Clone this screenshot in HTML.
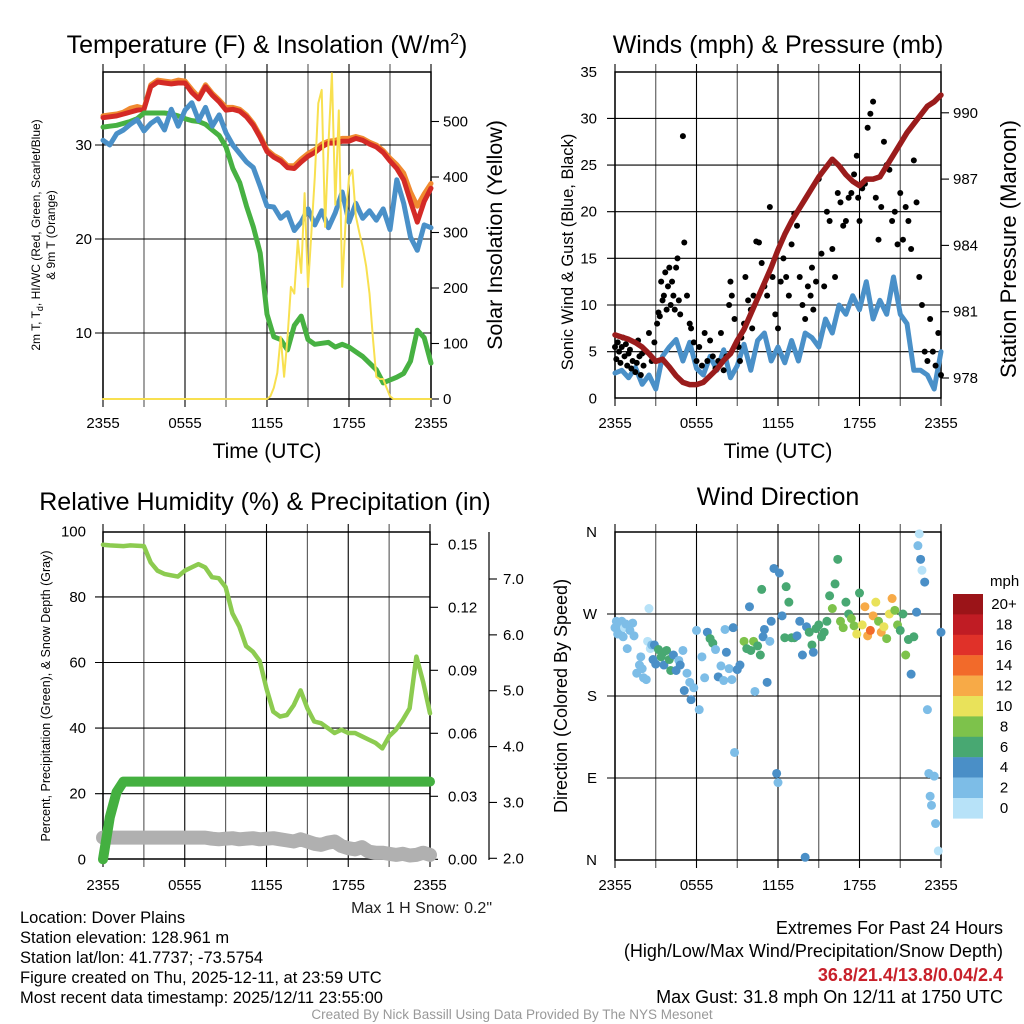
<!DOCTYPE html>
<html><head><meta charset="utf-8">
<style>
html,body{margin:0;padding:0;background:#fff;}
svg{display:block;font-family:"Liberation Sans",Arial,sans-serif;}
</style></head>
<body>
<svg id="fig" width="1024" height="1024" viewBox="0 0 1024 1024" xmlns="http://www.w3.org/2000/svg">
<rect width="1024" height="1024" fill="#fff"/>
<text x="267" y="53" font-size="25" text-anchor="middle">Temperature (F) &amp; Insolation (W/m<tspan dy="-9" font-size="16">2</tspan><tspan dy="9">)</tspan></text>
<text x="778" y="53" font-size="25" text-anchor="middle">Winds (mph) &amp; Pressure (mb)</text>
<text x="265" y="510" font-size="25" text-anchor="middle">Relative Humidity (%) &amp; Precipitation (in)</text>
<text x="778" y="505" font-size="25" text-anchor="middle">Wind Direction</text>

<text x="267" y="458" font-size="21" text-anchor="middle">Time (UTC)</text>
<text x="778" y="458" font-size="21" text-anchor="middle">Time (UTC)</text>
<text transform="translate(40,235) rotate(-90)" font-size="12" text-anchor="middle">2m T, T<tspan font-size="9" dy="3">d</tspan><tspan dy="-3">, HI/WC (Red, Green, Scarlet/Blue)</tspan></text>
<text transform="translate(55,235) rotate(-90)" font-size="12" text-anchor="middle">&amp; 9m T (Orange)</text>
<text transform="translate(502,235) rotate(-90)" font-size="21.5" text-anchor="middle">Solar Insolation (Yellow)</text>
<text transform="translate(573,252) rotate(-90)" font-size="16.5" text-anchor="middle">Sonic Wind &amp; Gust (Blue, Black)</text>
<text transform="translate(1016,249) rotate(-90)" font-size="22" text-anchor="middle">Station Pressure (Maroon)</text>
<text transform="translate(50,696) rotate(-90)" font-size="12.5" text-anchor="middle">Percent, Precipitation (Green), &amp; Snow Depth (Gray)</text>
<text transform="translate(567,696) rotate(-90)" font-size="18" text-anchor="middle">Direction (Colored By Speed)</text>

<g id="p1"></g>
<g id="p2"></g>
<g id="p3"></g>
<g id="p4"></g>
<g id="cbar"></g>

<text x="492" y="913" font-size="16" text-anchor="end" fill="#222">Max 1 H Snow: 0.2"</text>
<g font-size="16.5">
<text x="20" y="923">Location: Dover Plains</text>
<text x="20" y="943">Station elevation: 128.961 m</text>
<text x="20" y="963">Station lat/lon: 41.7737; -73.5754</text>
<text x="20" y="983">Figure created on Thu, 2025-12-11, at 23:59 UTC</text>
<text x="20" y="1003">Most recent data timestamp: 2025/12/11 23:55:00</text>
</g>
<g font-size="18" text-anchor="end">
<text x="1003" y="934">Extremes For Past 24 Hours</text>
<text x="1003" y="957">(High/Low/Max Wind/Precipitation/Snow Depth)</text>
<text x="1003" y="981" fill="#c8202a" font-weight="bold">36.8/21.4/13.8/0.04/2.4</text>
<text x="1003" y="1003">Max Gust: 31.8 mph On 12/11 at 1750 UTC</text>
</g>
<text x="512" y="1019" font-size="13.5" text-anchor="middle" fill="#999">Created By Nick Bassill Using Data Provided By The NYS Mesonet</text>
</svg>
<script>
const timeLabels = ["2355","0555","1155","1755","2355"];
const tempRed = [32.9,33.0,33.1,33.3,33.5,33.7,33.8,36.2,36.7,36.6,36.5,36.6,36.6,35.6,34.9,36.2,35.3,34.6,33.7,33.8,33.6,33.0,32.1,30.8,29.3,28.7,28.3,27.6,27.5,28.2,28.8,29.2,29.8,30.2,30.2,30.4,30.4,30.7,30.5,30.1,29.8,29.2,28.3,27.5,26.3,24.0,21.8,24.0,25.4];
const temp9mOrange = [33.1,33.2,33.3,33.5,33.9,34.1,33.9,36.4,36.9,36.8,36.7,36.9,36.8,35.9,35.1,36.4,35.5,34.8,34.0,34.0,33.8,33.2,32.3,31.0,29.5,28.9,28.5,27.8,27.8,28.5,29.1,29.5,30.1,30.4,30.5,30.7,30.7,30.9,30.7,30.3,30.0,29.4,28.6,27.9,27.0,25.0,23.5,24.8,25.9];
const heatIndexGreen = [31.9,32.0,32.1,32.3,32.5,32.8,33.4,33.4,33.4,33.4,33.3,33.1,32.8,32.6,32.5,32.2,31.6,31.0,29.8,27.5,26.0,23.5,21.3,18.5,12.0,9.6,9.3,8.2,10.8,11.8,9.3,8.8,8.9,9.0,8.5,8.8,8.5,8.0,7.5,6.8,6.1,4.7,5.0,5.3,5.7,7.0,10.3,9.5,6.8];
const dewBlue = [30.5,30.0,31.2,31.6,32.2,32.7,31.5,32.3,32.8,31.6,33.8,32.0,33.7,34.5,32.6,34.0,32.0,33.2,31.3,30.0,29.1,28.2,27.6,25.6,23.5,23.4,22.2,22.8,20.9,21.8,23.2,21.5,23.0,21.2,22.8,25.0,21.8,23.8,22.2,23.0,22.0,23.2,21.0,26.3,23.8,20.2,18.8,21.5,21.2];
const insolation = [0,0,0,0,0,0,0,0,0,0,0,0,0,0,0,0,0,0,0,0,0,0,0,0,0,0,0,0,0,0,0,0,0,0,0,0,0,0,0,0,0,0,0,0,0,0,0,0,0,5,20,47,112,40,110,202,190,286,227,371,202,300,400,533,557,310,461,587,350,520,202,320,400,413,330,300,274,240,190,110,40,36,36,20,5,0,0,0,0,0,0,0,0,0,0,0,0];
const windBlue = [2.7,3.0,2.2,3.3,1.5,2.5,1.0,4.5,5.5,6.3,4.0,6.0,3.2,2.5,4.5,3.0,5.2,2.2,3.5,5.8,3.0,6.2,7.0,4.0,5.5,3.8,6.2,4.0,7.0,6.5,5.5,8.5,7.0,10.0,9.0,11.0,9.5,12.5,8.5,10.5,9.0,13.0,9.0,8.0,3.0,3.0,2.5,1.0,5.0];
const pressure = [979.95,979.85,979.75,979.6,979.4,979.1,978.75,978.85,978.5,978.1,977.8,977.7,977.7,977.8,978.1,978.4,978.8,979.1,979.7,980.2,980.9,981.6,982.3,983.0,983.8,984.5,985.1,985.6,986.1,986.6,987.1,987.5,987.9,987.6,987.2,986.9,986.7,987.0,987.0,987.1,987.6,988.1,988.6,989.1,989.5,989.9,990.3,990.5,990.8];
const gustHours = [0.0,0.1,0.2,0.3,0.4,0.5,0.6,0.7,0.8,0.9,1.0,1.1,1.2,1.3,1.5,1.6,1.7,1.8,1.9,2.0,2.1,2.3,2.5,2.7,2.9,3.1,3.2,3.3,3.4,3.5,3.6,3.7,3.8,3.9,4.0,4.1,4.2,4.3,4.4,4.5,4.6,4.7,4.8,5.0,5.1,5.3,5.5,5.6,5.8,6.0,6.2,6.4,6.6,6.8,7.0,7.2,7.4,7.6,7.8,8.0,8.2,8.4,8.5,8.6,8.8,9.0,9.1,9.2,9.3,9.5,9.6,9.8,10.0,10.1,10.2,10.4,10.6,10.8,11.0,11.2,11.4,11.6,11.8,12.0,12.2,12.4,12.6,12.8,13.0,13.2,13.4,13.6,13.8,14.0,14.2,14.4,14.5,14.6,14.8,15.0,15.2,15.4,15.6,15.8,16.0,16.2,16.4,16.6,16.8,17.0,17.2,17.4,17.6,17.8,17.9,18.0,18.2,18.4,18.6,18.8,19.0,19.2,19.4,19.6,19.8,20.0,20.2,20.4,20.6,20.8,21.0,21.2,21.4,21.6,21.8,22.0,22.2,22.4,22.6,22.8,23.0,23.2,23.4,23.6,23.8,24.0];
const gustMph = [5.5,4.2,6.0,5.0,3.8,5.5,6.5,4.5,5.8,3.5,4.8,5.2,3.2,4.0,2.8,3.8,6.2,4.5,2.5,4.8,3.5,5.0,7.0,4.0,6.0,8.0,9.2,8.8,12.5,10.5,11.0,13.5,9.5,12.0,14.0,10.0,12.5,11.0,9.5,14.0,15.0,10.5,9.0,28.1,16.7,11.0,8.0,7.5,6.0,4.0,5.5,3.5,7.0,4.0,6.2,4.5,3.2,4.0,7.0,3.0,4.5,10.0,12.5,11.0,8.5,6.0,5.5,4.0,6.5,8.0,13.0,10.5,9.5,7.5,11.0,16.8,16.7,14.5,12.0,11.0,20.5,13.0,9.0,7.5,12.5,15.0,13.0,11.0,16.5,19.8,18.5,13.0,10.0,8.5,12.0,11.0,14.0,9.5,12.5,23.5,15.5,12.0,20.0,19.0,16.0,13.0,22.0,21.0,18.5,19.0,21.5,22.0,24.0,26.0,21.5,19.0,22.5,23.0,29.0,30.5,31.8,21.5,17.0,20.5,27.5,25.0,24.5,19.0,20.0,16.5,22.0,17.0,20.5,19.0,16.0,25.5,21.0,13.0,10.0,5.0,4.0,8.5,5.0,3.5,7.0,2.5,1.5,4.0,6.5,12.5,9.0];
const rhPercent = [95.9,95.7,95.6,95.5,95.7,95.6,95.5,90.5,88.0,87.0,86.6,86.2,88.0,89.0,90.0,89.0,86.0,85.7,83.0,75.0,71.0,65.0,63.3,60.5,52.0,45.0,43.5,44.0,47.0,51.5,46.0,42.0,41.5,40.0,38.5,39.5,38.5,38.5,37.5,36.5,35.5,33.8,37.5,39.5,42.5,46.0,61.8,54.0,44.5];
const precipIn = [0.0,0.02,0.032,0.037,0.037,0.037,0.037,0.037,0.037,0.037,0.037,0.037,0.037,0.037,0.037,0.037,0.037,0.037,0.037,0.037,0.037,0.037,0.037,0.037,0.037,0.037,0.037,0.037,0.037,0.037,0.037,0.037,0.037,0.037,0.037,0.037,0.037,0.037,0.037,0.037,0.037,0.037,0.037,0.037,0.037,0.037,0.037,0.037,0.037];
const snowDepth = [2.37,2.37,2.37,2.37,2.37,2.37,2.37,2.37,2.37,2.37,2.37,2.37,2.37,2.37,2.37,2.37,2.35,2.34,2.35,2.36,2.34,2.35,2.36,2.34,2.35,2.36,2.34,2.32,2.30,2.34,2.30,2.26,2.24,2.28,2.30,2.22,2.18,2.16,2.20,2.12,2.10,2.10,2.08,2.06,2.08,2.05,2.06,2.10,2.06];
const dirHours = [0.0,0.1,0.2,0.3,0.4,0.5,0.6,0.7,0.8,0.9,1.1,1.3,1.4,1.6,1.8,1.9,2.0,2.1,2.3,2.4,2.5,2.6,2.7,2.8,2.9,3.0,3.2,3.4,3.5,3.6,3.8,4.0,4.1,4.3,4.5,4.7,4.8,5.0,5.1,5.3,5.5,5.6,5.8,6.0,6.2,6.4,6.6,6.8,7.0,7.2,7.4,7.6,7.8,8.0,8.1,8.2,8.4,8.6,8.7,8.8,9.0,9.2,9.5,9.7,9.9,10.0,10.2,10.3,10.5,10.7,10.8,10.9,11.0,11.2,11.4,11.5,11.7,11.9,12.0,12.1,12.3,12.5,12.6,12.8,13.0,13.2,13.4,13.6,13.8,14.0,14.1,14.3,14.5,14.6,14.8,15.0,15.2,15.4,15.6,15.8,16.0,16.2,16.4,16.6,16.8,17.0,17.2,17.4,17.6,17.8,18.0,18.2,18.4,18.6,18.8,19.0,19.2,19.4,19.6,19.8,20.0,20.2,20.4,20.6,20.8,21.0,21.2,21.4,21.6,21.8,22.0,22.2,22.3,22.4,22.5,22.6,22.8,23.0,23.1,23.2,23.3,23.5,23.6,23.8,24.0];
const dirDegrees = [255,262,248,258,250,262,245,255,259,232,252,260,246,205,214,223,210,200,198,240,276,232,236,220,236,215,231,223,227,214,230,220,208,225,208,219,214,230,186,205,195,176,189,252,165,223,200,250,243,238,231,201,213,197,253,228,210,198,255,118,209,214,240,232,278,230,240,185,235,225,297,245,253,195,240,262,320,95,85,315,268,244,300,283,244,244,246,262,225,3,256,250,236,228,254,258,245,250,262,290,276,303,330,262,255,283,270,265,257,248,293,258,278,246,252,268,283,262,250,256,243,270,287,274,258,252,270,225,242,204,245,272,345,358,330,318,305,165,95,70,60,92,40,10,250,255];
const dirSpeed = [2,2,2,2,2,2,2,0,2,2,2,2,2,2,2,2,2,2,2,0,0,0,2,4,4,4,6,6,6,4,6,6,6,4,4,2,4,2,4,2,2,4,2,2,2,2,2,4,6,6,2,4,2,2,2,4,2,2,4,2,4,4,8,6,4,6,8,2,6,6,6,4,4,4,2,4,4,4,2,4,4,6,6,6,6,6,4,4,4,4,4,6,6,4,6,6,6,6,6,6,8,6,6,8,8,6,6,8,8,10,6,10,12,12,14,12,10,8,12,10,8,10,12,8,8,6,6,8,6,4,6,4,2,0,4,0,4,2,2,2,2,2,2,0,4,2];
const speedBins = ["20+","18","16","14","12","10","8","6","4","2","0"];
const speedColors = ["#9b1418","#c01c24","#e03129","#f26a2a","#f7aa47","#e9e25a","#7dc24b","#48a872","#4a8fc7","#7dbde7","#b7e2f8"];

const NS="http://www.w3.org/2000/svg";
function el(parent,tag,attrs){const e=document.createElementNS(NS,tag);for(const k in attrs)e.setAttribute(k,attrs[k]);parent.appendChild(e);return e;}
function txt(parent,x,y,s,size,anchor){const t=el(parent,"text",{x:x,y:y,"font-size":size,"text-anchor":anchor});t.textContent=s;return t;}

function frame(g,x0,y0,x1,y1,hVals,yFn){
  for(let h=0;h<=24;h+=3){const x=x0+h/24*(x1-x0);
    const l=el(g,"line",{x1:x,y1:y0-8,x2:x,y2:y1+8,stroke:(h%6==0?"#000":"#555"),"stroke-width":1.1});
    
    }
  hVals.forEach(v=>{const y=yFn(v);
    const l=el(g,"line",{x1:x0-8,y1:y,x2:x1,y2:y,stroke:"#000","stroke-width":1.1});
    
    });
  const r=el(g,"rect",{x:x0,y:y0,width:x1-x0,height:y1-y0,fill:"none",stroke:"#000","stroke-width":1.5});
  
  
}
function xLabels(g,x0,x1,y){timeLabels.forEach((s,i)=>{const t=txt(g,x0+i*(x1-x0)/4,y,s,15,"middle");
  
  });}
function pathFrom(xs,ys){let d="";for(let i=0;i<xs.length;i++)d+=(i?"L":"M")+xs[i].toFixed(1)+","+ys[i].toFixed(1);return d;}
function line(g,d,color,w,name){const p=el(g,"path",{d:d,fill:"none",stroke:color,"stroke-width":w,"stroke-linejoin":"round","stroke-linecap":"round"});
  
  return p;}
function rightTicks(g,x,vals,yFn,labs,lx){vals.forEach((v,i)=>{const y=yFn(v);
  const l=el(g,"line",{x1:x,y1:y,x2:x+8,y2:y,stroke:"#000","stroke-width":1.1});
  
  
  const t=txt(g,lx,y+5,labs[i],15,"start");
  
  });}
function leftLabels(g,x,vals,yFn,labs){vals.forEach((v,i)=>{const t=txt(g,x,yFn(v)+5,labs[i],15,"end");
  
  });}

(function(){
  const g=document.getElementById("p1");
  const x0=103,x1=431,y0=72,y1=399;
  const X=h=>x0+h/24*(x1-x0);
  const TY=v=>145-(v-30)*9.4;
  const IY=v=>399-v*0.555;
  frame(g,x0,y0,x1,y1,[10,20,30],TY);
  leftLabels(g,92,[10,20,30],TY,["10","20","30"]);
  rightTicks(g,x1,[0,100,200,300,400,500],IY,["0","100","200","300","400","500"],443);
  xLabels(g,x0,x1,428);
  const hs=tempRed.map((_,i)=>i*0.5);
  line(g,pathFrom(hs.map(X),temp9mOrange.map(TY)),"#f08a30",5,"orange-9m-temp-line");
  line(g,pathFrom(hs.map(X),tempRed.map(TY)),"#d42a26",5,"red-temp-line");
  line(g,pathFrom(hs.map(X),heatIndexGreen.map(TY)),"#47b142",5,"green-heat-index-line");
  line(g,pathFrom(hs.map(X),dewBlue.map(TY)),"#4a90c8",5,"blue-temp-line");
  const ih=insolation.map((_,i)=>i*0.25);
  line(g,pathFrom(ih.map(X),insolation.map(IY)),"#f8e050",2,"yellow-insolation-line");
})();

(function(){
  const g=document.getElementById("p2");
  const x0=615,x1=941,y0=72,y1=398;
  const X=h=>x0+h/24*(x1-x0);
  const WY=v=>398.3-v*9.33;
  const PY=p=>378-(p-978)*22.1;
  frame(g,x0,y0,x1,y1,[5,10,15,20,25,30],WY);
  leftLabels(g,597,[0,5,10,15,20,25,30,35],WY,["0","5","10","15","20","25","30","35"]);
  rightTicks(g,x1,[978,981,984,987,990],PY,["978","981","984","987","990"],953);
  xLabels(g,x0,x1,428);
  const hs=windBlue.map((_,i)=>i*0.5);
  line(g,pathFrom(hs.map(X),windBlue.map(WY)),"#4a90c8",5,"sonic-wind-line");
  gustHours.forEach((h,i)=>{const c=el(g,"circle",{cx:X(h),cy:WY(gustMph[i]),r:3,fill:"#000"});
    
    });
  line(g,pathFrom(hs.map(X),pressure.map(PY)),"#9a1c1c",5.5,"pressure-line");
})();

(function(){
  const g=document.getElementById("p3");
  const x0=103,x1=430,y0=532,y1=859;
  const X=h=>x0+h/24*(x1-x0);
  const RY=v=>859.3-v*3.28;
  const PRY=v=>859.3-v*2100;
  const SY=v=>858.3-(v-2)*55.86;
  frame(g,x0,y0,x1,y1,[20,40,60,80],RY);
  leftLabels(g,86,[0,20,40,60,80,100],RY,["0","20","40","60","80","100"]);
  rightTicks(g,x1,[0,0.03,0.06,0.09,0.12,0.15],PRY,["0.00","0.03","0.06","0.09","0.12","0.15"],448);
  const ax=el(g,"line",{x1:489,y1:532,x2:489,y2:860,stroke:"#000","stroke-width":1.2});
  
  
  rightTicks(g,489,[2,3,4,5,6,7],SY,["2.0","3.0","4.0","5.0","6.0","7.0"],503);
  xLabels(g,x0,x1,890);
  const hs=rhPercent.map((_,i)=>i*0.5);
  line(g,pathFrom(hs.map(X),snowDepth.map(SY)),"#b0b0b0",14,"snow-depth-line");
  line(g,pathFrom(hs.map(X),precipIn.map(PRY)),"#44b040",10,"precip-line");
  line(g,pathFrom(hs.map(X),rhPercent.map(RY)),"#8ccb50",4.5,"rh-line");
})();

(function(){
  const g=document.getElementById("p4");
  const x0=615,x1=941,y0=532,y1=860;
  const X=h=>x0+h/24*(x1-x0);
  const DY=d=>860-d*0.9111;
  frame(g,x0,y0,x1,y1,[90,180,270],DY);
  leftLabels(g,597,[0,90,180,270,360],DY,["N","E","S","W","N"]);
  xLabels(g,x0,x1,890);
  const colorFor=s=>{const idx=Math.min(10,Math.max(0,10-Math.floor(s/2)));return speedColors[idx];};
  dirHours.forEach((h,i)=>{const c=el(g,"circle",{cx:X(h),cy:DY(dirDegrees[i]),r:4.5,fill:colorFor(dirSpeed[i])});
    
    });
  const cb=document.getElementById("cbar");
  const t=txt(cb,990,586,"mph",15,"start");
  
  
  speedBins.forEach((lab,i)=>{const y=594+i*20.4;
    const r=el(cb,"rect",{x:953,y:y,width:30,height:20.6,fill:speedColors[i]});
    
    
    const l=txt(cb,1004,y+15,lab,15,"middle");
    
    });
})();
</script>
</body></html>
